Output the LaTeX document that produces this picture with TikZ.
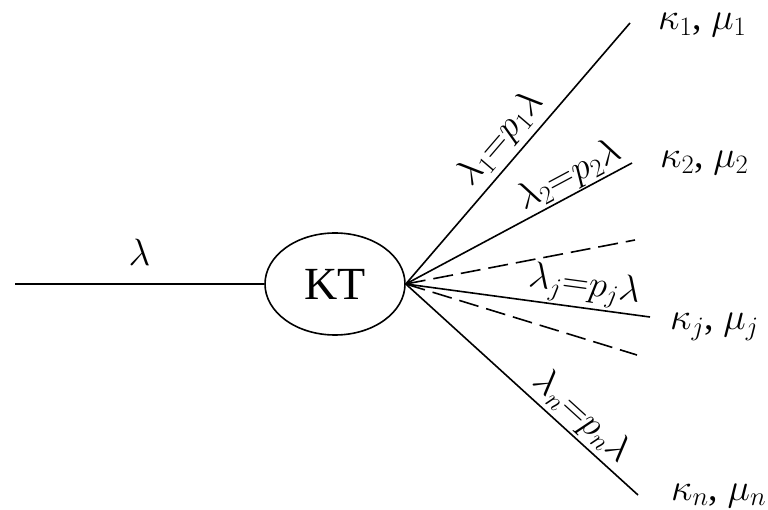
\RequirePackage{fix-cm}
\documentclass[tikz,border=0pt]{standalone}
\usepackage{fontspec}
\setmainfont{Liberation Serif}
\usetikzlibrary{shapes.geometric}
\begin{document}
\begin{tikzpicture}[x=1pt,y=-1pt,
  conn/.style={line width=1.6pt},
  dconn/.style={line width=1.6pt, dash pattern=on 20pt off 8pt},
  lbl/.style={font=\fontsize{38}{42}\selectfont, inner sep=0pt},
  flow/.style={font=\fontsize{37}{40}\selectfont, sloped, inner sep=6pt}]
\useasboundingbox (0,0) rectangle (768,510);
\node[draw, ellipse, line width=1.6pt, minimum width=140pt, minimum height=102pt,
      inner sep=0pt, font=\fontsize{46}{50}\selectfont] (kt) at (335,284) {KT};
\coordinate (in) at (15,284);
\coordinate (e1) at (630,23);
\coordinate (e2) at (632,163);
\coordinate (d1) at (635,240);
\coordinate (ej) at (650,317);
\coordinate (d2) at (637,355);
\coordinate (en) at (638,495);
\draw[conn] (in) -- node[lbl, above=18pt, pos=0.5] (lam) {$\lambda$} (kt.west);
\draw[conn] (kt.east) -- node[flow, above, pos=0.5, inner sep=5pt] (f1) {$\lambda_1{=}p_1\lambda$} (e1);
\draw[conn] (kt.east) -- node[flow, above, pos=0.76, inner sep=1pt] (f2) {$\lambda_2{=}p_2\lambda$} (e2);
\draw[dconn] (kt.east) -- (d1);
\draw[conn] (kt.east) -- node[flow, above, pos=0.72, inner sep=2pt] (fj) {$\lambda_j{=}p_j\lambda$} (ej);
\draw[dconn] (kt.east) -- (d2);
\draw[conn] (kt.east) -- node[flow, above, pos=0.7, inner sep=3pt] (fn) {$\lambda_n{=}p_n\lambda$} (en);
\node[lbl, anchor=base west] (k1) at (658,30) {$\kappa_1$, $\mu_1$};
\node[lbl, anchor=base west] (k2) at (660,168) {$\kappa_2$, $\mu_2$};
\node[lbl, anchor=base west] (kj) at (670,330) {$\kappa_j$, $\mu_j$};
\node[lbl, anchor=base west] (kn) at (671,500) {$\kappa_n$, $\mu_n$};
\end{tikzpicture}
\end{document}
